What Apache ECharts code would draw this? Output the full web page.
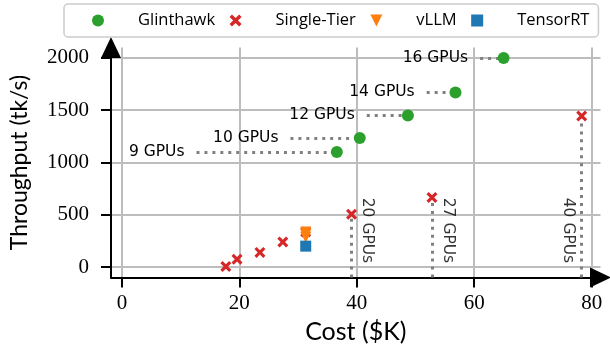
<!DOCTYPE html>
<html>
<head>
<meta charset="utf-8">
<script src="https://cdn.jsdelivr.net/npm/echarts@6/dist/echarts.min.js"></script>
<style>
  html, body { margin: 0; padding: 0; background: #fff; }
  #chart { width: 610px; height: 350px; }
</style>
</head>
<body>
<div id="chart"></div>
<script>
// Throughput against hardware cost for each serving system.
const glinthawkCost = [36.6, 40.5, 48.7, 56.8, 65.0];
const glinthawkThroughput = [1100, 1235, 1450, 1670, 2000];
const glinthawkGpus = ['9 GPUs', '10 GPUs', '12 GPUs', '14 GPUs', '16 GPUs'];
const glinthawkLeaderFrom = [12.7, 28.7, 41.7, 51.9, 61.0]; // cost where each dotted leader begins

const singleTierCost = [17.7, 19.6, 23.5, 27.4, 31.3, 39.1, 52.8, 78.3];
const singleTierThroughput = [5, 75, 140, 240, 335, 505, 665, 1445];
const singleTierTagged = [5, 6, 7]; // indices of the annotated configurations
const singleTierGpus = ['20 GPUs', '27 GPUs', '40 GPUs'];
const singleTierLabelSide = ['right', 'right', 'left'];

const vllmCost = [31.3, 31.3, 31.3];
const vllmThroughput = [335, 310, 285];

const tensorrtCost = [31.3];
const tensorrtThroughput = [200];

const xTicks = [0, 20, 40, 60, 80];
const yTicks = [0, 500, 1000, 1500, 2000];

const X_MARK = 'path://M2,0 L5,3 L8,0 L10,2 L7,5 L10,8 L8,10 L5,7 L2,10 L0,8 L3,5 L0,2 Z';
const DOWN_TRI = 'path://M0,0 L10,0 L5,10 Z';

const C_GREEN = '#2ca02c', C_RED = '#d62728', C_ORANGE = '#ff7f0e', C_BLUE = '#1f77b4';
const LEADER = { color: '#808080', width: 3, type: [3, 4.95], cap: 'butt' };
const ANNOT_FONT = { fontFamily: 'DejaVu Sans', fontSize: 15.5, color: '#000' };
const TIER_LABEL_Y = 350;

const zip = (xs, ys) => xs.map((x, i) => [x, ys[i]]);

const axisCommon = {
  type: 'value',
  nameLocation: 'middle',
  nameTextStyle: { fontFamily: 'Lato', fontSize: 23, color: '#000' },
  axisLine: { show: true, onZero: false, symbol: ['none', 'triangle'], symbolSize: [20, 21],
              lineStyle: { color: '#000', width: 2 } },
  axisTick: { show: true, inside: false, length: 10, lineStyle: { color: '#000', width: 2 } },
  splitLine: { show: true, lineStyle: { color: '#bdbdbd', width: 2 } }
};
const tickFont = { fontFamily: 'Liberation Serif', fontSize: 21, color: '#000' };

const chart = echarts.init(document.getElementById('chart'), null, { renderer: 'canvas' });
chart.setOption({
  animation: false,
  backgroundColor: '#fff',
  grid: { left: 106.7, right: 9.5, top: 47.5, bottom: 72.5, containLabel: false },
  legend: {
    left: 64, top: 4,
    padding: [8, 9, 8, 28],
    itemWidth: 12, itemHeight: 12, itemGap: 14.5,
    borderColor: '#cccccc', borderWidth: 1.5, borderRadius: 4,
    backgroundColor: '#fff',
    formatter: name => '{g| }{t|' + name + '}',
    textStyle: {
      color: '#000',
      rich: {
        g: { width: 29, fontSize: 16 },
        t: { fontFamily: 'Open Sans', fontSize: 16.5, color: '#000' }
      }
    },
    data: [
      { name: 'Glinthawk', icon: 'circle' },
      { name: 'Single-Tier', icon: X_MARK },
      { name: 'vLLM', icon: DOWN_TRI },
      { name: 'TensorRT', icon: 'rect' }
    ]
  },
  xAxis: Object.assign({}, axisCommon, {
    min: -1.86, max: 81.5,
    name: 'Cost ($K)', nameGap: 42,
    nameTextStyle: { fontFamily: 'Lato', fontSize: 25, color: '#000' },
    axisTick: Object.assign({}, axisCommon.axisTick, { customValues: xTicks }),
    axisLabel: Object.assign({ customValues: xTicks, margin: 15 }, tickFont)
  }),
  yAxis: Object.assign({}, axisCommon, {
    min: -100, max: 2100,
    name: 'Throughput (tk/s)', nameGap: 80,
    axisTick: Object.assign({}, axisCommon.axisTick, { customValues: yTicks }),
    axisLabel: Object.assign({ customValues: yTicks, margin: 22, formatter: v => String(v) }, tickFont)
  }),
  series: [
    {
      name: 'Glinthawk', type: 'scatter', symbol: 'circle', symbolSize: 12,
      itemStyle: { color: C_GREEN, opacity: 1 }, z: 3,
      data: zip(glinthawkCost, glinthawkThroughput),
      markLine: {
        silent: true, symbol: ['none', 'none'], z: 1,
        lineStyle: LEADER,
        emphasis: { disabled: true },
        label: Object.assign({ show: true, position: 'start', distance: 12, formatter: p => p.name }, ANNOT_FONT),
        data: glinthawkCost.map((c, i) => [
          { coord: [glinthawkLeaderFrom[i], glinthawkThroughput[i]], name: glinthawkGpus[i] },
          { coord: [c, glinthawkThroughput[i]] }
        ])
      }
    },
    {
      name: 'Single-Tier', type: 'scatter', symbol: X_MARK, symbolSize: 11,
      itemStyle: { color: C_RED, opacity: 1 }, z: 3,
      data: zip(singleTierCost, singleTierThroughput),
      markLine: {
        silent: true, symbol: ['none', 'none'], z: 1,
        lineStyle: LEADER,
        emphasis: { disabled: true },
        label: { show: false },
        data: singleTierTagged.map(i => [
          { coord: [singleTierCost[i], -100] },
          { coord: [singleTierCost[i], singleTierThroughput[i]] }
        ])
      }
    },
    {
      name: 'vLLM', type: 'scatter', symbol: DOWN_TRI, symbolSize: 11,
      itemStyle: { color: C_ORANGE, opacity: 1 }, z: 3,
      data: zip(vllmCost, vllmThroughput)
    },
    {
      name: 'TensorRT', type: 'scatter', symbol: 'rect', symbolSize: 11,
      itemStyle: { color: C_BLUE, opacity: 1 }, z: 3,
      data: zip(tensorrtCost, tensorrtThroughput)
    },
    {
      // rotated GPU-count tags beside the single-tier leaders
      name: 'tier-tags', type: 'scatter', symbolSize: 0, silent: true, z: 4,
      data: singleTierTagged.map((idx, k) => ({
        value: [singleTierCost[idx], TIER_LABEL_Y],
        label: Object.assign({
          show: true, position: 'inside', rotate: -90,
          // offset is in the rotated frame: its y axis points to screen-left
          offset: [0, singleTierLabelSide[k] === 'right' ? -16 : 14],
          formatter: singleTierGpus[k]
        }, ANNOT_FONT)
      }))
    }
  ]
});
</script>
</body>
</html>
